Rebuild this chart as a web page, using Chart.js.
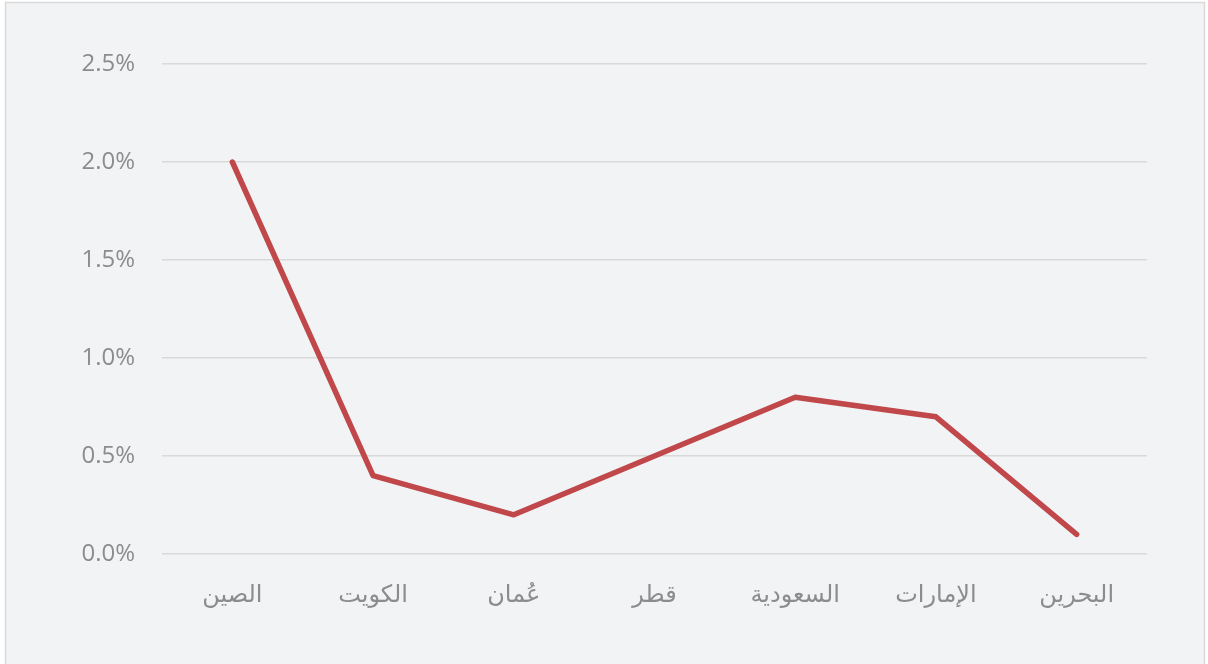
<!DOCTYPE html>
<html>
<head>
<meta charset="utf-8">
<script src="https://cdn.jsdelivr.net/npm/chart.js@4/dist/chart.umd.min.js"></script>
<style>
  html, body { margin:0; padding:0; background:#fff; }
  #wrap { width:1208px; height:664px; position:relative; }
</style>
</head>
<body>
<div id="wrap"><canvas id="chart" width="1208" height="664"></canvas></div>
<script>
const countries = ['الصين', 'الكويت', 'عُمان', 'قطر', 'السعودية', 'الإمارات', 'البحرين'];
const shares = [2.0, 0.4, 0.2, 0.5, 0.8, 0.7, 0.1];
const yTicks = [0, 0.5, 1.0, 1.5, 2.0, 2.5];

// panel background + frame
const panel = {
  id: 'panel',
  beforeDraw(c){
    const g = c.ctx;
    g.save();
    g.fillStyle = '#f2f3f5';
    g.fillRect(5, 2, 1200, 670);
    g.strokeStyle = '#d9d9d9';
    g.lineWidth = 1.5;
    g.strokeRect(5.5, 2.5, 1199, 670);
    g.restore();
  }
};

const font = { family: "'Open Sans', 'DejaVu Sans', sans-serif", size: 24 };

new Chart(document.getElementById('chart'), {
  type: 'line',
  data: {
    labels: countries,
    datasets: [{ data: shares, borderColor:'#c0474a', borderWidth:5.5, pointRadius:0, tension:0, borderCapStyle:'round', borderJoinStyle:'round' }]
  },
  options: {
    responsive: false,
    animation: false,
    layout: { padding: { top: 64, right: 61, left: 0, bottom: 30 } },
    plugins: { legend: { display:false }, tooltip: { enabled:false } },
    scales: {
      x: {
        offset: true,
        grid: { display:false, drawTicks:false },
        border: { display:false },
        ticks: { color:'#8c8c8c', font, padding: 27, maxRotation:0 },
        afterFit(s){ s.height = 80; }
      },
      y: {
        min: 0, max: 2.5,
        afterBuildTicks(s){ s.ticks = yTicks.map(v => ({ value: v })); },
        grid: { color:'#d9d9d9', lineWidth:1.5, drawTicks:false },
        border: { display:false },
        ticks: { color:'#8c8c8c', font, padding: 27, callback: v => v.toFixed(1) + '%' },
        afterFit(s){ s.width = 162; }
      }
    }
  },
  plugins: [panel]
});
</script>
</body>
</html>
